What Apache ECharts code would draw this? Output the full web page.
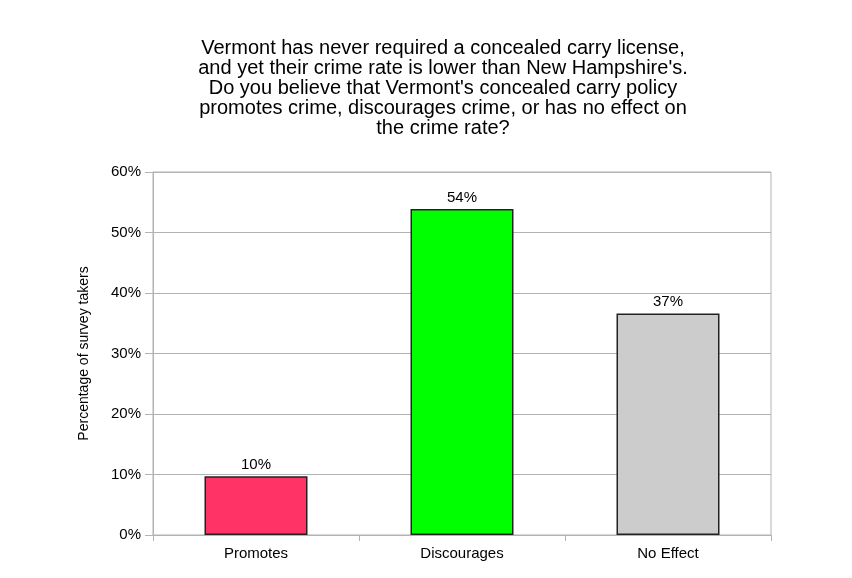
<!DOCTYPE html>
<html><head><meta charset="utf-8">
<script src="https://cdn.jsdelivr.net/npm/echarts@6/dist/echarts.min.js"></script>
<style>html,body{margin:0;padding:0;background:#fff}#c{width:852px;height:578px}</style>
</head><body><div id="c"></div>
<script>
const categories = ['Promotes', 'Discourages', 'No Effect'];
const values = [9.7, 53.9, 36.6];
const colors = ['#FF3366', '#00FF00', '#CCCCCC'];
const yTicks = [0, 10, 20, 30, 40, 50, 60];
const titleText = "Vermont has never required a concealed carry license,\nand yet their crime rate is lower than New Hampshire's.\nDo you believe that Vermont's concealed carry policy\npromotes crime, discourages crime, or has no effect on\nthe crime rate?";
const yName = 'Percentage of survey takers';

const chart = echarts.init(document.getElementById('c'));
chart.setOption({
  animation: false,
  textStyle: {fontFamily: 'Liberation Sans, Arial, sans-serif'},
  title: {
    text: titleText, left: 438, textAlign: 'center', top: 33,
    textStyle: {fontSize: 20, fontWeight: 'normal', color: '#000', lineHeight: 20, fontFamily: 'Liberation Sans'}
  },
  grid: {left: 153, right: 81, top: 172, bottom: 43, show: true, borderColor: '#b3b3b3', borderWidth: 1},
  xAxis: {
    type: 'category', data: categories,
    axisLine: {show: true, lineStyle: {color: '#b3b3b3'}},
    axisTick: {show: true, length: 6, lineStyle: {color: '#b3b3b3'}},
    axisLabel: {color: '#000', fontSize: 15, margin: 11}
  },
  yAxis: {
    type: 'value', min: yTicks[0], max: yTicks[yTicks.length - 1], interval: 10,
    name: yName, nameLocation: 'middle', nameGap: 62, nameRotate: 90,
    nameTextStyle: {fontSize: 14, color: '#000'},
    axisLine: {show: true, lineStyle: {color: '#b3b3b3'}},
    axisTick: {show: true, length: 8, inside: false, lineStyle: {color: '#b3b3b3'}},
    axisLabel: {color: '#000', fontSize: 15, margin: 12, formatter: v => v + '%'},
    splitLine: {show: true, lineStyle: {color: '#b3b3b3'}}
  },
  series: [{
    type: 'bar', barWidth: '50%',
    data: values.map((v, i) => ({value: v, itemStyle: {color: colors[i]}})),
    itemStyle: {borderColor: '#222', borderWidth: 1.5},
    label: {show: true, position: 'top', distance: 4, color: '#000', fontSize: 15, formatter: p => Math.round(p.value) + '%'}
  }]
});
</script></body></html>
